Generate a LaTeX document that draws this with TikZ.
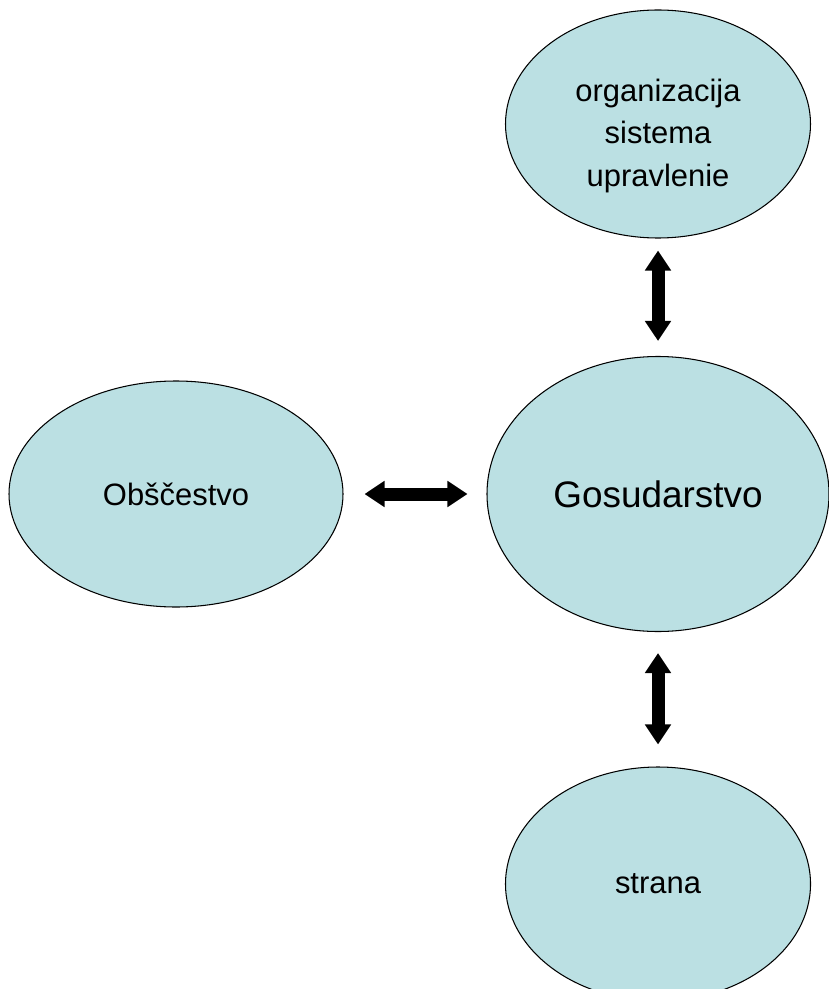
\documentclass[tikz,border=0pt]{standalone}
\usepackage{fontspec}
\setmainfont{Liberation Sans}
\usetikzlibrary{arrows.meta,shapes.geometric}
\definecolor{paleblue}{RGB}{187,224,227}

\begin{document}
\begin{tikzpicture}[shorten >=1pt,auto,node distance=7.4cm,
	line width=0.6pt,
	main node/.style = {ellipse,draw,fill=paleblue,inner sep = 0pt,
		font=\fontsize{17.6}{24.3}\selectfont},
	dbl arrow/.style = {{Triangle[length=0.4cm,width=0.5cm]}-{Triangle[length=0.4cm,width=0.5cm]},line width=0.26cm}]
	\useasboundingbox (0,0) rectangle (16.56,-19.78);
	\node[main node,minimum width=6.84cm,minimum height=5.5cm,font=\fontsize{21}{25}\selectfont] at (13.16,-9.88) (gos) {Gosudarstvo};
	\node[main node,minimum width=6.1cm,minimum height=4.56cm,align=center,text height=2.63cm] [above of = gos](org) {organizacija\\sistema\\upravlenie};
	\node[main node,minimum width=6.68cm,minimum height=4.52cm] [left of = gos,node distance=9.64cm](obs) {Obščestvo};
	\node[main node,minimum width=6.1cm,minimum height=4.68cm] [below of = gos,node distance=7.8cm](strana) {strana};
	
	\path[dbl arrow]
	(org) edge [shorten <=0.24cm, shorten >=0.3cm] node {} (gos)
	(obs) edge [shorten <=0.42cm, shorten >=0.38cm] node {} (gos)
	(gos) edge [shorten <=0.42cm, shorten >=0.44cm] node {} (strana);
	\end{tikzpicture}
\end{document}
